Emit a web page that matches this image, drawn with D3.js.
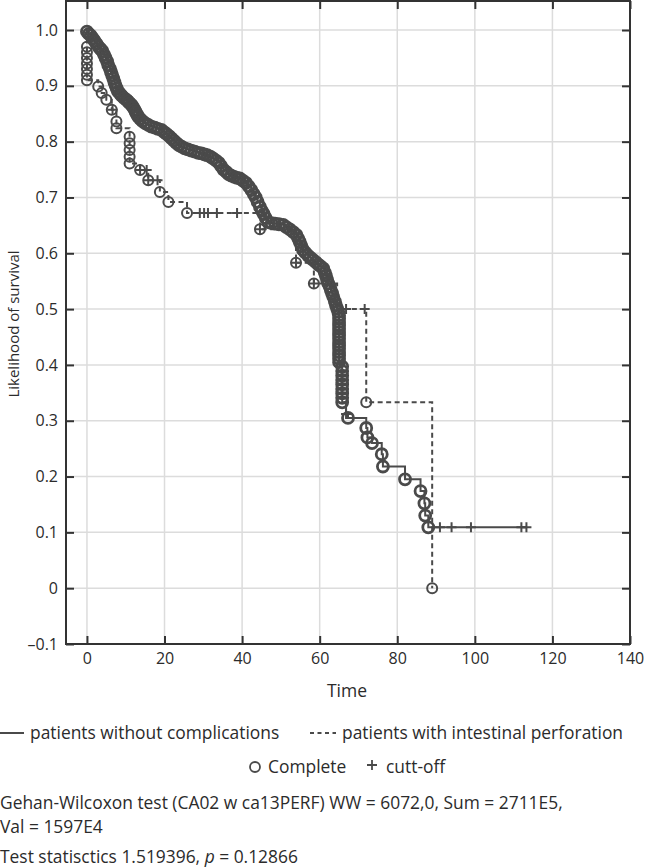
<!DOCTYPE html>
<html>
<head>
<meta charset="utf-8">
<script src="https://cdn.jsdelivr.net/npm/d3@7"></script>
<style>
  html, body { margin: 0; padding: 0; background: #fff; }
  svg { display: block; font-family: "Open Sans", sans-serif; }
</style>
</head>
<body>
<svg id="chart" width="648" height="868"></svg>
<script>
// ---------- data ----------
const xTicks = [0, 20, 40, 60, 80, 100, 120, 140];
const yTicks = [-0.1, 0, 0.1, 0.2, 0.3, 0.4, 0.5, 0.6, 0.7, 0.8, 0.9, 1.0];

// Series 1: patients without complications — complete (event) points [time, survival]
const noCompEvents = [
  [0, 0.997], [0.5, 0.993], [1, 0.99], [1.5, 0.985], [2, 0.98], [2.5, 0.975], [3, 0.97],
  [3.5, 0.966], [4, 0.962], [4.4, 0.956], [4.8, 0.95], [5.2, 0.944], [5.5, 0.937],
  [5.9, 0.931], [6.2, 0.925], [6.5, 0.919], [6.8, 0.913], [7.1, 0.906], [7.4, 0.90],
  [7.7, 0.895], [8, 0.89], [8.5, 0.886], [9, 0.882], [9.6, 0.878], [10.2, 0.875],
  [10.6, 0.872], [11, 0.869], [11.5, 0.866], [11.9, 0.862], [12.3, 0.857], [12.6, 0.853],
  [12.9, 0.849], [13.2, 0.845], [13.7, 0.841], [14.3, 0.837], [15, 0.833], [15.8, 0.83],
  [16.6, 0.827], [17.5, 0.825], [18.3, 0.823], [19.2, 0.821], [19.9, 0.817], [20.5, 0.814],
  [21.2, 0.81], [21.8, 0.806], [22.4, 0.802], [23, 0.798], [23.7, 0.794], [24.4, 0.791],
  [25.2, 0.788], [26, 0.786], [26.9, 0.784], [27.8, 0.782], [28.7, 0.78], [29.5, 0.779],
  [30.3, 0.777], [31, 0.776], [31.8, 0.773], [32.5, 0.77], [33.3, 0.766], [34, 0.762],
  [34.6, 0.756], [35.2, 0.75], [35.9, 0.746], [36.5, 0.742], [37.2, 0.739], [38, 0.737],
  [38.7, 0.735], [39.4, 0.734], [40.2, 0.73], [41, 0.726], [41.7, 0.72], [42.4, 0.713],
  [43, 0.706], [43.5, 0.70], [44, 0.692], [44.6, 0.683], [45.1, 0.676], [45.6, 0.67],
  [46.1, 0.663], [46.7, 0.656], [47.6, 0.654], [48.5, 0.653], [49.5, 0.652], [50.6, 0.651],
  [51.4, 0.647], [52.3, 0.643], [53.2, 0.638], [54, 0.633], [54.5, 0.626], [54.9, 0.62],
  [55.3, 0.613], [55.7, 0.606], [56.3, 0.601], [57, 0.596], [57.6, 0.592], [58.3, 0.588],
  [59, 0.584], [59.6, 0.58], [60.2, 0.577], [60.9, 0.573], [61.3, 0.566], [61.6, 0.56],
  [61.9, 0.553], [62.2, 0.546], [62.6, 0.54], [62.9, 0.534], [63.2, 0.528], [63.5, 0.522],
  [63.9, 0.514], [64.2, 0.507], [64.5, 0.501], [64.8, 0.495],
  [65, 0.489], [65, 0.483], [65, 0.477], [65, 0.471], [65, 0.465], [65, 0.459], [65, 0.453],
  [65, 0.447], [65, 0.441], [65, 0.435], [65, 0.429], [65, 0.423], [65, 0.417], [65, 0.411],
  [65, 0.405],
  [65.8, 0.397], [65.8, 0.389], [65.8, 0.381], [65.8, 0.373], [65.8, 0.365], [65.8, 0.357],
  [65.8, 0.349], [65.8, 0.341], [65.8, 0.333],
  [67.3, 0.305], [72, 0.287], [72.3, 0.27], [73.5, 0.26], [76, 0.24], [76.3, 0.218],
  [82, 0.195], [86, 0.174], [87, 0.152], [87.2, 0.13], [88, 0.109]
];
// Series 1 — cut-off (censored) points
const noCompCensored = [
  [66.8, 0.312], [91, 0.109], [94, 0.109], [99, 0.109], [112, 0.109], [113.3, 0.109]
];

// Series 2: patients with intestinal perforation — complete (event) points
const perfEvents = [
  [0, 0.97], [0, 0.96], [0, 0.95], [0, 0.94], [0, 0.93], [0, 0.92], [0, 0.91],
  [2.9, 0.899], [3.8, 0.887], [5, 0.875], [6.4, 0.857], [7.6, 0.836], [7.6, 0.824],
  [11, 0.809], [11, 0.797], [11, 0.785], [11, 0.773], [11, 0.761],
  [13.7, 0.749], [15.8, 0.731], [18.8, 0.71], [21, 0.692], [25.8, 0.672],
  [44.6, 0.643], [53.9, 0.583], [58.5, 0.546], [64.5, 0.5], [72, 0.333], [89, 0]
];
// Series 2 — cut-off (censored) points
const perfCensored = [
  [6.6, 0.857], [13.7, 0.749], [15.4, 0.749], [15.8, 0.731], [18.2, 0.731],
  [29.1, 0.672], [30.2, 0.672], [31.2, 0.672], [33.5, 0.672], [38.7, 0.672],
  [44.6, 0.643], [53.9, 0.583], [58.5, 0.546], [66.8, 0.5], [71.6, 0.5]
];

// texts
const xLabel = "Time";
const yLabel = "Likelihood of survival";
const seriesNames = ["patients without complications", "patients with intestinal perforation"];
const markerNames = ["Complete", "cutt-off"];
const testLine1 = "Gehan-Wilcoxon test (CA02 w ca13PERF) WW = 6072,0, Sum = 2711E5,";
const testLine2 = "Val = 1597E4";

// ---------- drawing ----------
const ink = "#4a4a4a";
const textCol = "#2b2b2b";
const svg = d3.select("#chart");
const L = 66, R = 630, T = 1, B = 644;

const x = d3.scaleLinear().domain([-5.4, 140]).range([L, R]);
const y = d3.scaleLinear().domain([-0.1, 1.052]).range([B, T]);

// grid
const grid = svg.append("g");
grid.selectAll("line.vx").data(xTicks).join("line")
  .attr("x1", d => x(d)).attr("x2", d => x(d)).attr("y1", T).attr("y2", B)
  .attr("stroke", "#dcdcdc").attr("stroke-width", 1.5);
grid.selectAll("line.hy").data(yTicks).join("line")
  .attr("x1", L).attr("x2", R).attr("y1", d => y(d)).attr("y2", d => y(d))
  .attr("stroke", "#dcdcdc").attr("stroke-width", 1.5);

// axes
const fmtY = d => d === 0 ? "0" : (d < 0 ? "\u2013" + Math.abs(d).toFixed(1) : d.toFixed(1));
const axB = svg.append("g").attr("transform", `translate(0,${B})`)
  .call(d3.axisBottom(x).tickValues(xTicks).tickSize(-8).tickPadding(9).tickFormat(d3.format("d")));
const axL = svg.append("g").attr("transform", `translate(${L},0)`)
  .call(d3.axisLeft(y).tickValues(yTicks).tickSize(-8).tickPadding(8).tickFormat(fmtY));
const axT = svg.append("g").attr("transform", `translate(0,${T})`)
  .call(d3.axisTop(x).tickValues(xTicks).tickSize(-8).tickFormat(""));
const axR = svg.append("g").attr("transform", `translate(${R},0)`)
  .call(d3.axisRight(y).tickValues(yTicks).tickSize(-8).tickFormat(""));
[axB, axL, axT, axR].forEach(a => {
  a.select(".domain").remove();
  a.selectAll(".tick line").attr("stroke", "#333").attr("stroke-width", 2);
  a.selectAll(".tick text").attr("fill", textCol).style("font-size", "16px")
    .style("font-family", "'Open Sans', sans-serif");
});

// frame
svg.append("rect").attr("x", L).attr("y", T).attr("width", R - L).attr("height", B - T)
  .attr("fill", "none").attr("stroke", "#333").attr("stroke-width", 2);

// KM step paths
const line = d3.line().x(d => x(d[0])).y(d => y(d[1])).curve(d3.curveStepAfter);
function kmPath(events, censored) {
  return [[0, 1]].concat(events, censored).sort((a, b) => a[0] - b[0] || b[1] - a[1]);
}
const plot = svg.append("g");
const plusPath = s => `M${-s},0H${s}M0,${-s}V${s}`;

// series 2 (dashed)
plot.append("path").datum(kmPath(perfEvents, perfCensored)).attr("d", line)
  .attr("fill", "none").attr("stroke", ink).attr("stroke-width", 2).attr("stroke-dasharray", "5,3.5");
plot.selectAll("circle.p").data(perfEvents).join("circle")
  .attr("cx", d => x(d[0])).attr("cy", d => y(d[1])).attr("r", 5)
  .attr("fill", "none").attr("stroke", ink).attr("stroke-width", 2);
plot.selectAll("path.pc").data(perfCensored).join("path")
  .attr("transform", d => `translate(${x(d[0])},${y(d[1])})`).attr("d", plusPath(5))
  .attr("fill", "none").attr("stroke", ink).attr("stroke-width", 2);

// series 1 (solid)
plot.append("path").datum(kmPath(noCompEvents, noCompCensored)).attr("d", line)
  .attr("fill", "none").attr("stroke", ink).attr("stroke-width", 2);
plot.selectAll("circle.n").data(noCompEvents).join("circle")
  .attr("cx", d => x(d[0])).attr("cy", d => y(d[1])).attr("r", 5.5)
  .attr("fill", "none").attr("stroke", ink).attr("stroke-width", 2.8);
plot.selectAll("path.nc").data(noCompCensored).join("path")
  .attr("transform", d => `translate(${x(d[0])},${y(d[1])})`).attr("d", plusPath(5))
  .attr("fill", "none").attr("stroke", ink).attr("stroke-width", 2);

// axis titles
const txt = (xx, yy, s, size, anchor) => svg.append("text").attr("x", xx).attr("y", yy)
  .attr("fill", textCol).style("font-size", size + "px").attr("text-anchor", anchor || "start").text(s);
txt((L + R) / 2 - 1, 697, xLabel, 17.5, "middle");
svg.append("text").attr("transform", "translate(19,324) rotate(-90)").attr("text-anchor", "middle")
  .attr("fill", textCol).style("font-size", "15px").text(yLabel);

// legend
const fs = 17.4;
svg.append("line").attr("x1", 0).attr("x2", 24).attr("y1", 733).attr("y2", 733)
  .attr("stroke", ink).attr("stroke-width", 2);
txt(30, 739, seriesNames[0], fs);
svg.append("line").attr("x1", 310).attr("x2", 336).attr("y1", 733).attr("y2", 733)
  .attr("stroke", ink).attr("stroke-width", 2).attr("stroke-dasharray", "4,3.5");
txt(342, 739, seriesNames[1], fs);
svg.append("circle").attr("cx", 255).attr("cy", 767).attr("r", 5)
  .attr("fill", "none").attr("stroke", ink).attr("stroke-width", 1.8);
txt(268, 773, markerNames[0], fs);
svg.append("path").attr("transform", "translate(372,765)").attr("d", plusPath(5))
  .attr("stroke", ink).attr("stroke-width", 1.8);
txt(386, 773, markerNames[1], fs);

// test statistics
txt(0, 809, testLine1, fs);
txt(0, 833, testLine2, fs);
const t3 = svg.append("text").attr("x", 0).attr("y", 863).attr("fill", textCol).style("font-size", fs + "px");
t3.append("tspan").text("Test statisctics 1.519396, ");
t3.append("tspan").style("font-style", "italic").text("p");
t3.append("tspan").text(" = 0.12866");
</script>
</body>
</html>
